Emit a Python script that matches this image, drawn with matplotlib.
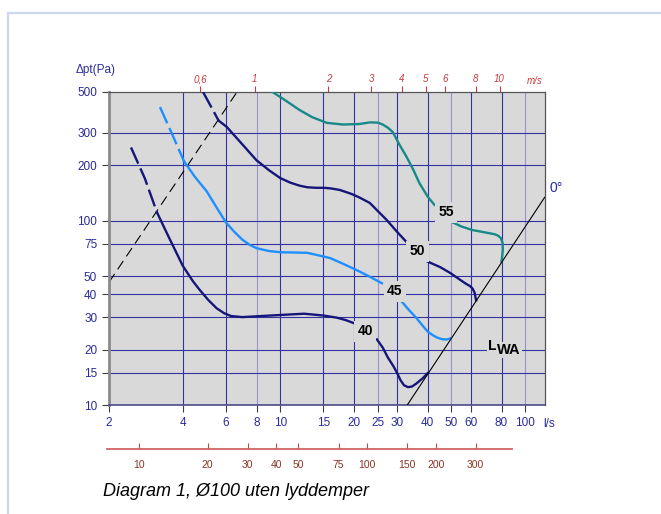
import numpy as np
import matplotlib
matplotlib.use("Agg")
import matplotlib.pyplot as plt
from matplotlib.lines import Line2D

plt.rcParams['font.family'] = ['Liberation Sans', 'DejaVu Sans']

W, H = 661, 514

# --- data (q in l/s, p in Pa) ---
# curve 40 dB(A)
c40_dash_q = [2.46, 2.8, 3.14]
c40_dash_p = [250, 170, 111]
c40_q = [3.14, 3.5, 4.0, 4.4, 4.7, 5.1, 5.5, 5.9, 6.3, 7.0, 8.0, 10.0, 12.5, 15.0, 17.0, 18.5, 20.0]
c40_p = [111, 82, 57, 47, 42, 37, 33.5, 31.5, 30.4, 30.0, 30.3, 30.8, 31.3, 30.6, 29.8, 28.9, 27.8]
c40b_q = [24.8, 26.2, 27.5, 29.0, 30.0, 31.0, 32.0, 33.2, 34.5, 36.0, 38.0, 40.0]
c40b_p = [22.7, 20.5, 18.1, 16.2, 14.9, 13.6, 12.8, 12.5, 12.6, 13.1, 13.9, 14.9]

# curve 45 dB(A)
c45_dash_q = [3.23, 3.6, 4.05]
c45_dash_p = [414, 300, 210]
c45_q = [4.05, 4.5, 5.0, 5.5, 6.0, 6.5, 7.0, 7.5, 8.0, 9.0, 10.0, 12.9, 15.0, 16.0,
         18.0, 20.5, 23.0, 26.0]
c45_p = [210, 172, 145, 118, 98, 87, 79, 74, 71, 68.5, 67.5, 67, 64, 62.7,
         58.5, 54, 50, 45.8]
c45b_q = [31.3, 33.5, 36.0, 38.0, 40.0, 42.0, 43.5, 45.0, 46.5, 48.0, 49.5]
c45b_p = [36.5, 32.8, 29.6, 27.1, 25.0, 23.9, 23.3, 22.9, 22.7, 22.7, 23.0]

# curve 50 dB(A)
c50_dash_q = [4.84, 5.2, 5.6]
c50_dash_p = [500, 420, 350]
c50_q = [5.6, 6.05, 7.0, 8.0, 9.0, 10.0, 11.0, 12.0, 12.9, 14.0, 15.0, 16.0, 17.5,
         19.5, 21.0, 23.2, 25.0, 27.2, 30.0, 32.8]
c50_p = [350, 323, 260, 213, 188, 170.5, 161, 155, 152, 151, 151, 150, 147,
         140, 134, 125, 113, 101, 87, 76.5]
c50b_q = [40.0, 45.0, 49.5, 54.0, 57.0, 59.5, 61.0, 62.2, 63.0]
c50b_p = [60, 56, 52, 48, 45.7, 44.2, 42.8, 40.5, 37]

# curve 55 dB(A)
c55_q = [9.3, 10.5, 12.0, 13.5, 15.5, 18.0, 21.0, 23.2, 25.0, 26.2, 27.5, 28.8,
         30.5, 32.8, 35.0, 37.0, 40.0, 42.6]
c55_p = [500, 450, 399, 365, 340, 333, 335, 342, 341, 333, 320, 303,
         262, 222, 188, 160, 135, 122]
c55b_q = [50.5, 55.0, 61.0, 70.0, 75.0, 77.5, 79.5, 80.8, 81.0, 80.5, 80.0]
c55b_p = [98, 93, 89, 86, 84.5, 83, 80.5, 76, 70, 64, 60]

# system lines
lwa_q = [33, 120]
lwa_p = [10, 134]
sys_dash_q = [2, 6.66]
sys_dash_p = [46.4, 500]

# curve labels
label_text = ['55', '50', '45', '40']
label_q = [47.5, 36.3, 29.4, 22.2]
label_p = [111, 68.4, 41.4, 25.1]

# axis ticks
x_ticks = [2, 4, 6, 8, 10, 15, 20, 25, 30, 40, 50, 60, 80, 100]
x_light = [8, 25, 50, 100]
y_ticks = [10, 15, 20, 30, 40, 50, 75, 100, 200, 300, 500]
v_ticks = [0.6, 1, 2, 3, 4, 5, 6, 8, 10]
v_labels = ['0,6', '1', '2', '3', '4', '5', '6', '8', '10']
m3h_ticks = [10, 20, 30, 40, 50, 75, 100, 150, 200, 300]

AREA = 7.854  # l/s per m/s for Ø100

# colours
NAVY = '#16167a'
LBLUE = '#1e8fff'
TEAL = '#168a88'
GRID = '#3232a2'
GRID_L = '#9595cc'
BLUE_TXT = '#2a2a9a'
RED = '#c83a3a'
BROWN = '#8a3424'
BG = '#d9d9d9'


def fx(px):
    return px / W


def fy(py):
    return 1 - py / H


fig = plt.figure(figsize=(W / 100, H / 100), dpi=100)

ax = fig.add_axes([fx(109), fy(405), (545 - 109) / W, (405 - 92) / H])
ax.set_facecolor(BG)
ax.set_xscale('log')
ax.set_yscale('log')
ax.set_xlim(2, 120.4)
ax.set_ylim(10, 500)

# grid
for q in x_ticks[1:]:
    ax.axvline(q, color=GRID_L if q in x_light else GRID, lw=0.8, zorder=1)
for p in y_ticks[1:-1]:
    ax.axhline(p, color=GRID, lw=0.8, zorder=1)

ax.set_xticks(x_ticks)
ax.set_xticklabels([str(t) for t in x_ticks])
ax.set_yticks(y_ticks)
ax.set_yticklabels([str(t) for t in y_ticks])
ax.minorticks_off()
ax.tick_params(axis='both', colors='#404040', labelcolor=BLUE_TXT, labelsize=8.5,
               length=5, width=0.8)
ax.tick_params(axis='x', pad=4)

for side in ['top', 'right']:
    ax.spines[side].set_color('#555555')
    ax.spines[side].set_linewidth(0.9)
ax.spines['left'].set_color('#8a8a8a')
ax.spines['left'].set_linewidth(2)
ax.spines['bottom'].set_color('#4a4a8a')
ax.spines['bottom'].set_linewidth(1.2)

lw = 1.7
dash = (7.5, 2.2)
ax.plot(c40_dash_q, c40_dash_p, color=NAVY, lw=lw, dashes=dash, zorder=3)
ax.plot(c40_q, c40_p, color=NAVY, lw=lw, zorder=3)
ax.plot(c40b_q, c40b_p, color=NAVY, lw=lw, zorder=3)

ax.plot(c45_dash_q, c45_dash_p, color=LBLUE, lw=lw, dashes=dash, zorder=3)
ax.plot(c45_q, c45_p, color=LBLUE, lw=lw, zorder=3)
ax.plot(c45b_q, c45b_p, color=LBLUE, lw=lw, zorder=3)

ax.plot(c50_dash_q, c50_dash_p, color=NAVY, lw=lw, dashes=dash, zorder=3)
ax.plot(c50_q, c50_p, color=NAVY, lw=lw, zorder=3)
ax.plot(c50b_q, c50b_p, color=NAVY, lw=lw, zorder=3)

ax.plot(c55_q, c55_p, color=TEAL, lw=lw, zorder=3)
ax.plot(c55b_q, c55b_p, color=TEAL, lw=lw, zorder=3)

ax.plot(lwa_q, lwa_p, color='black', lw=0.8, zorder=4)
ax.plot(sys_dash_q, sys_dash_p, color='black', lw=0.8, dashes=(9, 5), zorder=2)

for t, q, p in zip(label_text, label_q, label_p):
    ax.text(q, p, t, fontsize=10, fontweight='bold', ha='center', va='center',
            zorder=5, bbox=dict(facecolor=BG, edgecolor='none', pad=2.5))

# top axis: velocity m/s
top = ax.secondary_xaxis('top', functions=(lambda q: q / AREA, lambda v: v * AREA))
top.set_xticks(v_ticks)
top.set_xticklabels(v_labels, fontstyle='italic')
top.minorticks_off()
top.tick_params(colors=RED, labelsize=7, length=4, width=0.8, pad=1.5)
top.spines['top'].set_visible(False)
fig.text(fx(535), fy(81), 'm/s', color=RED, fontsize=7, style='italic',
         ha='center', va='center')

# bottom axis: m3/h
bx = fig.add_axes([fx(107), fy(449), (512 - 107) / W, 0.0001])
bx.set_xscale('log')
bx.set_xlim(7.24, 432.5)
bx.set_xticks(m3h_ticks)
bx.set_xticklabels([str(t) for t in m3h_ticks])
bx.minorticks_off()
bx.set_yticks([])
for side in ['top', 'left', 'right']:
    bx.spines[side].set_visible(False)
bx.spines['bottom'].set_color('#d06262')
bx.spines['bottom'].set_linewidth(1.3)
bx.tick_params(axis='x', direction='in', colors='#c04848', labelcolor=BROWN,
               labelsize=7.5, length=4, width=0.8, pad=8)
bx.patch.set_visible(False)

# texts around the chart
fig.text(fx(76), fy(70), '\u0394pt(Pa)', color=BLUE_TXT, fontsize=8.5,
         ha='left', va='center')
fig.text(fx(543), fy(424), 'l/s', color=BLUE_TXT, fontsize=8.5, ha='left', va='center')
fig.text(fx(550), fy(188), '0\u00b0', color=BLUE_TXT, fontsize=10, ha='left', va='center')
fig.text(fx(488), fy(346), 'L', fontsize=10.5, fontweight='bold', ha='left', va='center',
         bbox=dict(facecolor=BG, edgecolor='none', pad=1))
fig.text(fx(497), fy(350), 'WA', fontsize=10.5, fontweight='bold', ha='left', va='center',
         bbox=dict(facecolor=BG, edgecolor='none', pad=1))
fig.text(fx(103), fy(492), 'Diagram 1, \u00d8100 uten lyddemper', fontsize=13,
         style='italic', ha='left', va='center')

# outer frame
fig.add_artist(Line2D([fx(8), fx(8)], [0, fy(13)], color='#cfd7ef', lw=1.6))
fig.add_artist(Line2D([fx(8), 1], [fy(13), fy(13)], color='#cfd7ef', lw=1.6))

fig.savefig('out.png', dpi=100)
